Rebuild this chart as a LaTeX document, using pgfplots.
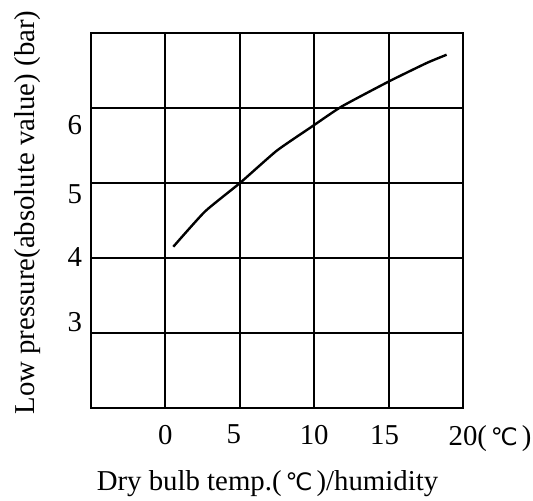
\documentclass[border=0pt]{standalone}
\usepackage{pgfplots}
\pgfplotsset{compat=1.18}
\usepackage{fontspec}
\setmainfont{Liberation Serif}
\newfontfamily\sym{DejaVu Sans}
\newcommand{\degc}{{\sym\fontsize{12}{13}\selectfont\,℃\,}}
\begin{document}
\begin{tikzpicture}
\begin{axis}[
  scale only axis,
  width=186pt, height=187.5pt,
  xmin=-5, xmax=20, ymin=2, ymax=7,
  xtick={-5,0,5,10,15,20},
  ytick={2,3,4,5,6,7},
  xticklabels={}, yticklabels={},
  grid=major,
  major grid style={black, line width=1pt},
  axis line style={black, line width=1.1pt},
  major tick length=0pt,
  extra x ticks={0,4.6,10,14.73,20},
  extra x tick labels={0,5,10,15,{\hphantom{(\degc)}20(\degc)}},
  extra y ticks={3.147,4.013,4.853,5.773},
  extra y tick labels={3,4,5,6},
  extra tick style={grid=none, major tick length=0pt},
  tick label style={font=\fontsize{14.4}{16}\selectfont},
  /pgf/number format/assume math mode=true,
  xticklabel style={yshift=-5pt},
  yticklabel style={xshift=-1pt},
  xlabel={Dry bulb temp.(\degc)/humidity},
  ylabel={Low pressure(absolute value) (bar)},
  label style={font=\fontsize{14.4}{16}\selectfont},
  xlabel style={at={(axis description cs:0.5,0)}, anchor=base, xshift=-4.75pt, yshift=-41pt},
  ylabel style={at={(axis description cs:-0.1694,0.5213)}, anchor=center},
]
\addplot[black, line width=1.2pt, smooth, tension=0.3] coordinates {
(0.53,4.15) (2.66,4.62) (5.01,5.00) (7.48,5.43) (9.83,5.75) (11.85,6.02) (14.98,6.35) (17.56,6.60) (18.90,6.71)
};
\end{axis}
\pgfresetboundingbox
\path[use as bounding box] ([shift={(-45.5pt,-46.5pt)}]current axis.south west) rectangle ([shift={(35pt,16.5pt)}]current axis.north east);
\end{tikzpicture}
\end{document}
